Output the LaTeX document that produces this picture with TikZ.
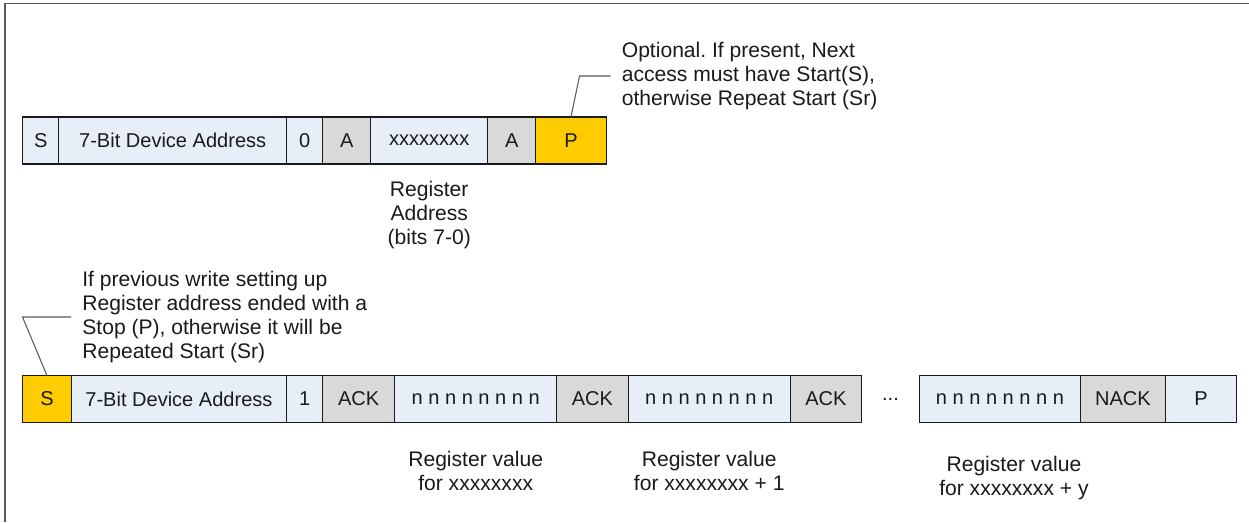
\documentclass[tikz,border=0pt]{standalone}
\usepackage{fontspec}
\setmainfont{Liberation Sans}
\frenchspacing
\usetikzlibrary{positioning}
\definecolor{cellblue}{HTML}{E7EEF8}
\definecolor{cellgray}{HTML}{D9D9D9}
\definecolor{cellgold}{HTML}{FFCC00}
\definecolor{linegray}{HTML}{595959}
\definecolor{inkblack}{HTML}{1A1A1A}

\begin{document}
\begin{tikzpicture}[
    cell/.style={draw=inkblack, line width=0.7pt, minimum height=0.94cm, inner sep=0pt, outer sep=0pt,
        text=inkblack, font=\fontsize{11.4pt}{13pt}\selectfont},
    bluecell/.style={cell, fill=cellblue},
    graycell/.style={cell, fill=cellgray},
    goldcell/.style={cell, fill=cellgold},
    regtext/.style={align=center, inner sep=0pt, text=inkblack, font=\fontsize{12pt}{13.7pt}\selectfont},
    note/.style={align=left, inner sep=0pt, text=inkblack, font=\fontsize{12pt}{13.7pt}\selectfont},
    leader/.style={draw=linegray, line width=0.6pt}
]
    \useasboundingbox (0,0) rectangle (24.98,-10.44);
    %frame only on the top and the left side
    \draw[linegray, line width=1.1pt] (0.1,-10.44) -- (0.1,-0.07) -- (24.98,-0.07);

    %write transaction setting up the register address
    \node[bluecell, minimum width=0.72cm, anchor=west] (s1) at (0.454,-2.81) {S};
    \node[bluecell, minimum width=4.56cm, right=0pt of s1] (addr1) {7-Bit Device Address};
    \node[bluecell, minimum width=0.72cm, right=0pt of addr1] (rw1) {0};
    \node[graycell, minimum width=0.96cm, right=0pt of rw1] (ack1) {A};
    \node[bluecell, minimum width=2.34cm, right=0pt of ack1] (reg1) {xxxxxxxx};
    \node[graycell, minimum width=0.96cm, right=0pt of reg1] (ack2) {A};
    \node[goldcell, minimum width=1.41cm, right=0pt of ack2] (p1) {P};

    \node[regtext, below=0.34cm of reg1] (regaddr) {Register\\Address\\(bits 7-0)};

    %note on the optional stop
    \node[note, anchor=west] (note1) at (12.43,-1.52)
        {Optional. If present, Next\\access must have Start(S),\\otherwise Repeat Start (Sr)};
    \draw[leader] ([xshift=-0.22cm]note1.west) -- ++(-0.62,0) -- (p1.north);

    %read transaction
    \node[goldcell, minimum width=0.97cm, anchor=west] (s2) at (0.454,-7.98) {S};
    \node[bluecell, minimum width=4.31cm, right=0pt of s2] (addr2) {7-Bit Device Address};
    \node[bluecell, minimum width=0.72cm, right=0pt of addr2] (rw2) {1};
    \node[graycell, minimum width=1.44cm, right=0pt of rw2] (ack3) {ACK};
    \node[bluecell, minimum width=3.24cm, right=0pt of ack3] (data1) {n n n n n n n n};
    \node[graycell, minimum width=1.43cm, right=0pt of data1] (ack4) {ACK};
    \node[bluecell, minimum width=3.24cm, right=0pt of ack4] (data2) {n n n n n n n n};
    \node[graycell, minimum width=1.43cm, right=0pt of data2] (ack5) {ACK};
    \node[cell, draw=none, minimum width=1.15cm, right=0pt of ack5] (dots) {...};
    \node[bluecell, minimum width=3.23cm, right=0pt of dots] (data3) {n n n n n n n n};
    \node[graycell, minimum width=1.69cm, right=0pt of data3] (nack) {NACK};
    \node[bluecell, minimum width=1.43cm, right=0pt of nack] (p2) {P};

    \node[regtext, below=0.56cm of data1] (val1) {Register value\\for xxxxxxxx};
    \node[regtext, below=0.56cm of data2] (val2) {Register value\\for xxxxxxxx + 1};
    \node[regtext, below=0.66cm of data3, xshift=0.28cm] (val3) {Register value\\for xxxxxxxx + y};

    %note on the start condition
    \node[note, anchor=west] (note2) at (1.64,-6.34)
        {If previous write setting up\\Register address ended with a\\Stop (P), otherwise it will be\\Repeated Start (Sr)};
    \draw[leader] ([xshift=-0.22cm]note2.west) -- ++(-0.97,0) -- (s2.north);
\end{tikzpicture}
\end{document}
